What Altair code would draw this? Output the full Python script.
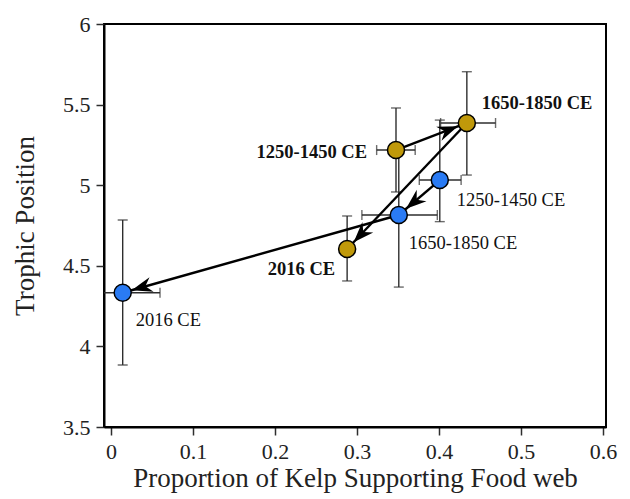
import math
import altair as alt
import pandas as pd

# ---------------- data ----------------
periods = ["1250-1450 CE", "1650-1850 CE", "2016 CE"]

gold_x = [0.3476, 0.434, 0.288]
gold_y = [5.218, 5.386, 4.604]
gold_x_lo = [0.324, 0.402, None]
gold_x_hi = [0.371, 0.469, None]
gold_y_lo = [4.958, 5.063, 4.406]
gold_y_hi = [5.479, 5.704, 4.809]

blue_x = [0.401, 0.351, 0.0143]
blue_y = [5.032, 4.815, 4.333]
blue_x_lo = [0.376, 0.306, -0.03]
blue_x_hi = [0.427, 0.398, 0.0598]
blue_y_lo = [4.774, 4.368, 3.885]
blue_y_hi = [5.404, 5.25, 4.784]

x_ticks = [0, 0.1, 0.2, 0.3, 0.4, 0.5, 0.6]
y_ticks = [3.5, 4, 4.5, 5, 5.5, 6]

# ---------------- layout / style ----------------
W, H = 502, 403
X_DOM = [-0.0085, 0.6037]
Y_DOM = [3.5, 6]
GOLD = "#C0990A"
BLUE = "#2A7BF4"
FONT = "Liberation Serif"
BAR = "#2e2e2e"

rows = []
for s, xs, ys, xl, xh, yl, yh in [
    ("gold", gold_x, gold_y, gold_x_lo, gold_x_hi, gold_y_lo, gold_y_hi),
    ("blue", blue_x, blue_y, blue_x_lo, blue_x_hi, blue_y_lo, blue_y_hi),
]:
    for i, p in enumerate(periods):
        rows.append(dict(series=s, period=p, x=xs[i], y=ys[i],
                         xlo=xl[i], xhi=xh[i], ylo=yl[i], yhi=yh[i]))
df = pd.DataFrame(rows)

# arrows: chronological path within each series
kx = W / (X_DOM[1] - X_DOM[0])
ky = H / (Y_DOM[1] - Y_DOM[0])
arows = []
for s, xs, ys in [("gold", gold_x, gold_y), ("blue", blue_x, blue_y)]:
    for a, b in [(0, 1), (1, 2)]:
        dxp = (xs[b] - xs[a]) * kx
        dyp = -(ys[b] - ys[a]) * ky
        ang = math.degrees(math.atan2(dxp, -dyp)) % 360
        arows.append(dict(series=s, x=xs[a], y=ys[a], x2=xs[b], y2=ys[b], ang=ang))
adf = pd.DataFrame(arows)

xsc = alt.Scale(domain=X_DOM, nice=False, zero=False)
ysc = alt.Scale(domain=Y_DOM, nice=False, zero=False)

xaxis = alt.Axis(values=x_ticks, format="~g", title="Proportion of Kelp Supporting Food web",
                 labelPadding=6, titlePadding=3)
yaxis = alt.Axis(values=y_ticks, format="~g", title="Trophic Position",
                 labelPadding=6, titlePadding=23)

base = alt.Chart(df)

vbars = base.mark_rule(color=BAR, strokeWidth=1.4, clip=True).encode(
    x=alt.X("x:Q", scale=xsc, axis=xaxis),
    y=alt.Y("ylo:Q", scale=ysc, axis=yaxis),
    y2="yhi:Q",
)
vcaps = base.transform_fold(["ylo", "yhi"], as_=["k", "v"]).mark_tick(
    orient="horizontal", size=10, thickness=1.4, color=BAR, clip=True
).encode(x=alt.X("x:Q", scale=xsc), y=alt.Y("v:Q", scale=ysc))

hb = base.transform_filter("isValid(datum.xlo)")
hbars = hb.mark_rule(color=BAR, strokeWidth=1.4, clip=True).encode(
    x=alt.X("xlo:Q", scale=xsc), x2="xhi:Q", y=alt.Y("y:Q", scale=ysc)
)
hcaps = hb.transform_fold(["xlo", "xhi"], as_=["k", "v"]).mark_tick(
    orient="vertical", size=10, thickness=1.4, color=BAR, clip=True
).encode(x=alt.X("v:Q", scale=xsc), y=alt.Y("y:Q", scale=ysc))

abase = alt.Chart(adf)
alines = abase.mark_rule(color="black", strokeWidth=2.4).encode(
    x=alt.X("x:Q", scale=xsc), y=alt.Y("y:Q", scale=ysc), x2="x2:Q", y2="y2:Q"
)
HEAD = "M0,0.95 Q0.35,1.9 0.75,3.0 L0,2.35 L-0.75,3.0 Q-0.35,1.9 0,0.95 Z"
aheads = abase.mark_point(shape=HEAD, filled=True, color="black", opacity=1, size=400).encode(
    x=alt.X("x2:Q", scale=xsc), y=alt.Y("y2:Q", scale=ysc),
    angle=alt.Angle("ang:Q", scale=None),
)

pts = base.mark_circle(size=290, stroke="black", strokeWidth=1.5, opacity=1).encode(
    x=alt.X("x:Q", scale=xsc), y=alt.Y("y:Q", scale=ysc),
    fill=alt.Fill("series:N", scale=alt.Scale(domain=["gold", "blue"], range=[GOLD, BLUE]), legend=None),
)

label_style = {
    ("gold", "1250-1450 CE"): dict(align="right", dx=-29, dy=2),
    ("gold", "1650-1850 CE"): dict(align="left", dx=15, dy=-20),
    ("gold", "2016 CE"): dict(align="right", dx=-12, dy=20),
    ("blue", "1250-1450 CE"): dict(align="left", dx=17, dy=20),
    ("blue", "1650-1850 CE"): dict(align="left", dx=10, dy=28),
    ("blue", "2016 CE"): dict(align="left", dx=13, dy=27),
}
labels = []
for (s, p), st in label_style.items():
    labels.append(
        base.transform_filter((alt.datum.series == s) & (alt.datum.period == p))
        .mark_text(font=FONT, fontSize=18.5, fontWeight="bold" if s == "gold" else "normal",
                   color="#111111", baseline="middle", **st)
        .encode(x=alt.X("x:Q", scale=xsc), y=alt.Y("y:Q", scale=ysc), text="period:N")
    )

chart = alt.layer(vbars, vcaps, hbars, hcaps, alines, aheads, pts, *labels).properties(
    width=W, height=H,
    autosize=alt.AutoSizeParams(type="none"),
    padding={"left": 104, "top": 24, "right": 24, "bottom": 72},
).configure_view(stroke="black", strokeWidth=2).configure_axis(
    grid=False, domainColor="black", domainWidth=2, tickColor=BAR, tickWidth=1.5, tickSize=8,
    labelFont=FONT, labelFontSize=22, labelColor="#222222",
    titleFont=FONT, titleFontSize=27, titleFontWeight="normal", titleColor="#222222",
)

chart.save("out.html", embed_options={"renderer": "svg", "actions": False})
